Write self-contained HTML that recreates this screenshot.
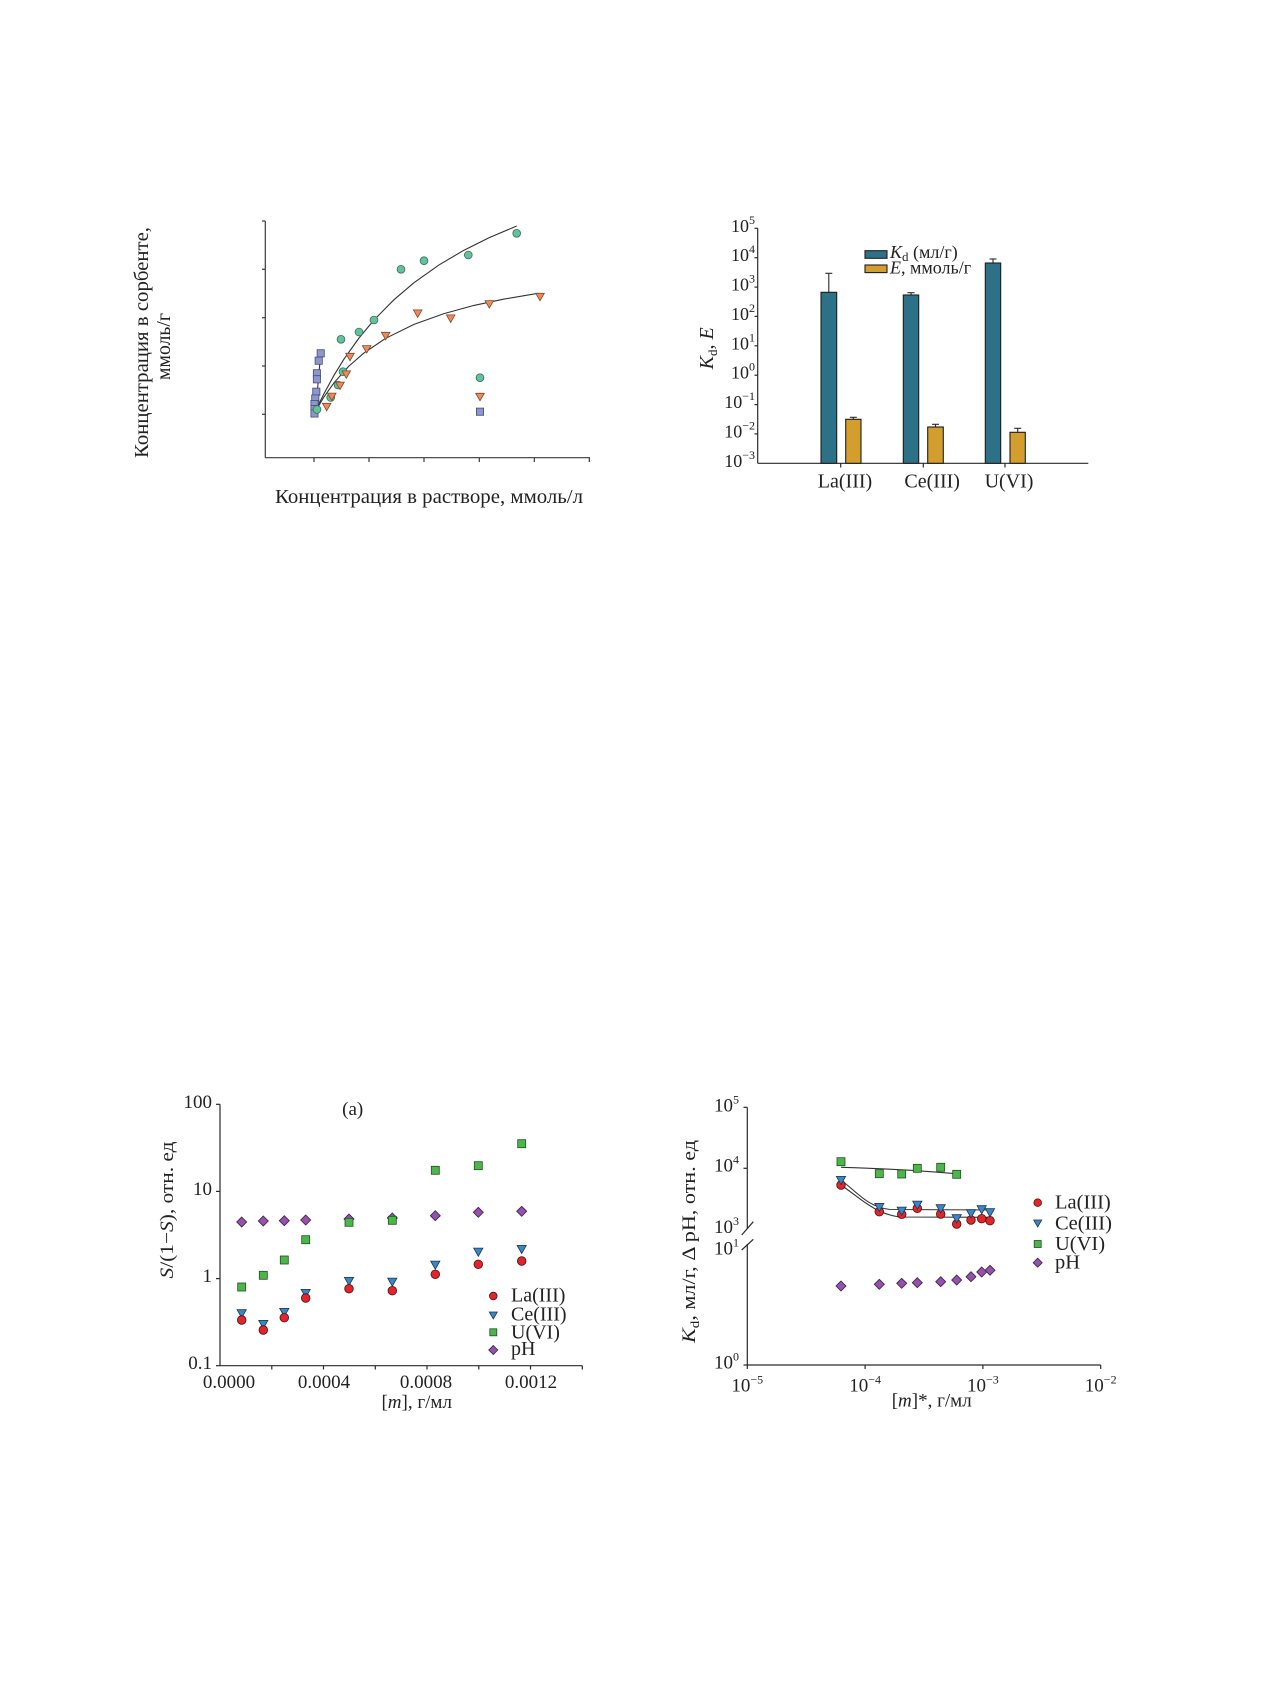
<!DOCTYPE html>
<html><head><meta charset="utf-8">
<style>
html,body{margin:0;padding:0;background:#fff;}
svg{display:block;}
text{font-family:"Liberation Serif","Noto Serif CJK SC",serif;fill:#222;}
</style></head>
<body>
<svg width="1270" height="1683" viewBox="0 0 1270 1683" xmlns="http://www.w3.org/2000/svg">
<defs>
  <circle id="p1c" r="3.9" fill="#5fc49c" stroke="#3d6b58" stroke-width="0.8"/>
  <polygon id="p1t" points="-4.3,-3.4 4.3,-3.4 0,4.1" fill="#f08858" stroke="#7a4a30" stroke-width="0.8"/>
  <rect id="p1s" x="-3.6" y="-3.6" width="7.2" height="7.2" fill="#8c98cc" stroke="#444a78" stroke-width="0.8"/>
  <circle id="mr" r="4.3" fill="#e3242b" stroke="#4a1010" stroke-width="0.8"/>
  <polygon id="mb" points="-4.6,-3.6 4.6,-3.6 0,4.6" fill="#3a86c6" stroke="#1c3550" stroke-width="0.8"/>
  <rect id="mg" x="-4" y="-4" width="8" height="8" fill="#4db64b" stroke="#1f4f1f" stroke-width="0.8"/>
  <polygon id="md" points="0,-5 5,0 0,5 -5,0" fill="#9452ad" stroke="#3c1c48" stroke-width="0.8"/>
</defs>
<rect width="1270" height="1683" fill="#fff"/>

<!-- ============ PANEL 1 ============ -->
<g stroke="#3a3a3a" stroke-width="1.2" fill="none">
  <line x1="265.3" y1="221" x2="265.3" y2="457.7"/>
  <line x1="265.3" y1="457.7" x2="590" y2="457.7"/>
  <line x1="262" y1="221" x2="265.3" y2="221"/>
  <line x1="262" y1="269.3" x2="265.3" y2="269.3"/>
  <line x1="262" y1="317.7" x2="265.3" y2="317.7"/>
  <line x1="262" y1="366" x2="265.3" y2="366"/>
  <line x1="262" y1="414.3" x2="265.3" y2="414.3"/>
  <line x1="314" y1="457.7" x2="314" y2="462"/>
  <line x1="369" y1="457.7" x2="369" y2="462"/>
  <line x1="424" y1="457.7" x2="424" y2="462"/>
  <line x1="479.3" y1="457.7" x2="479.3" y2="462"/>
  <line x1="534.3" y1="457.7" x2="534.3" y2="462"/>
  <line x1="589.3" y1="457.7" x2="589.3" y2="462"/>
</g>
<!-- fit curves -->
<g stroke="#333" stroke-width="1.1" fill="none">
  <polyline points="317,407.8 324,393.6 334,375.3 344,359.1 359,338 374,320 394,299.7 414,282.7 439,264.9 464,250.2 489,237.7 516.7,226"/>
  <polyline points="316,410.5 324,396.9 334,382.8 349,366 364,352.9 385.7,338.3 414,324.4 444,313.6 474,305.4 504,299.1 538,293.3"/>
  <line x1="315.5" y1="412" x2="321" y2="350"/>
</g>
<!-- squares -->
<use href="#p1s" x="320.7" y="353.3"/>
<use href="#p1s" x="318.7" y="360.7"/>
<use href="#p1s" x="316.9" y="373.3"/>
<use href="#p1s" x="316.9" y="379.3"/>
<use href="#p1s" x="316.3" y="391.7"/>
<use href="#p1s" x="315.3" y="398.5"/>
<use href="#p1s" x="314.5" y="404"/>
<use href="#p1s" x="314.5" y="409"/>
<use href="#p1s" x="314.5" y="413.5"/>
<!-- green circles -->
<use href="#p1c" x="516.7" y="233.3"/>
<use href="#p1c" x="468.3" y="255"/>
<use href="#p1c" x="424" y="260.7"/>
<use href="#p1c" x="401" y="269.3"/>
<use href="#p1c" x="374" y="320"/>
<use href="#p1c" x="359" y="332"/>
<use href="#p1c" x="341" y="339.3"/>
<use href="#p1c" x="343" y="371.7"/>
<use href="#p1c" x="338" y="385"/>
<use href="#p1c" x="330.7" y="397.5"/>
<use href="#p1c" x="317" y="409.5"/>
<!-- orange triangles -->
<use href="#p1t" x="540" y="296.7"/>
<use href="#p1t" x="489.3" y="304"/>
<use href="#p1t" x="450.7" y="318.3"/>
<use href="#p1t" x="417.7" y="313.3"/>
<use href="#p1t" x="385.7" y="335.7"/>
<use href="#p1t" x="366.7" y="349"/>
<use href="#p1t" x="350" y="356.7"/>
<use href="#p1t" x="346.3" y="374.3"/>
<use href="#p1t" x="340" y="385.5"/>
<use href="#p1t" x="331.8" y="396.5"/>
<use href="#p1t" x="326.7" y="406.7"/>
<!-- legend markers -->
<use href="#p1c" x="480" y="377.7"/>
<use href="#p1t" x="480" y="396.7"/>
<use href="#p1s" x="480" y="411.7"/>
<!-- labels -->
<text x="275" y="503" font-size="19.5" textLength="308" lengthAdjust="spacingAndGlyphs">Концентрация в растворе, ммоль/л</text>
<text transform="translate(148,342.5) rotate(-90)" text-anchor="middle" font-size="19.5" textLength="231" lengthAdjust="spacingAndGlyphs">Концентрация в сорбенте,</text>
<text transform="translate(170,346.5) rotate(-90)" text-anchor="middle" font-size="19.5" textLength="67" lengthAdjust="spacingAndGlyphs">ммоль/г</text>

<!-- ============ PANEL 2 ============ -->
<g stroke="#2a2a2a" stroke-width="1.2" fill="none">
  <line x1="757.7" y1="228.3" x2="757.7" y2="463.3"/>
  <line x1="757.7" y1="463.3" x2="1088.3" y2="463.3"/>
  <line x1="754.5" y1="228.3" x2="757.7" y2="228.3"/>
  <line x1="754.5" y1="257.7" x2="757.7" y2="257.7"/>
  <line x1="754.5" y1="287.1" x2="757.7" y2="287.1"/>
  <line x1="754.5" y1="316.4" x2="757.7" y2="316.4"/>
  <line x1="754.5" y1="345.8" x2="757.7" y2="345.8"/>
  <line x1="754.5" y1="375.2" x2="757.7" y2="375.2"/>
  <line x1="754.5" y1="404.6" x2="757.7" y2="404.6"/>
  <line x1="754.5" y1="433.9" x2="757.7" y2="433.9"/>
  <line x1="840.7" y1="463.3" x2="840.7" y2="467.5"/>
  <line x1="923.3" y1="463.3" x2="923.3" y2="467.5"/>
  <line x1="1005" y1="463.3" x2="1005" y2="467.5"/>
</g>
<g font-size="18">
  <text x="755" y="231.8" text-anchor="end">10<tspan dy="-8" font-size="12">5</tspan></text>
  <text x="755" y="261.2" text-anchor="end">10<tspan dy="-8" font-size="12">4</tspan></text>
  <text x="755" y="290.6" text-anchor="end">10<tspan dy="-8" font-size="12">3</tspan></text>
  <text x="755" y="319.9" text-anchor="end">10<tspan dy="-8" font-size="12">2</tspan></text>
  <text x="755" y="349.3" text-anchor="end">10<tspan dy="-8" font-size="12">1</tspan></text>
  <text x="755" y="378.7" text-anchor="end">10<tspan dy="-8" font-size="12">0</tspan></text>
  <text x="755" y="408.1" text-anchor="end">10<tspan dy="-8" font-size="12">−1</tspan></text>
  <text x="755" y="437.4" text-anchor="end">10<tspan dy="-8" font-size="12">−2</tspan></text>
  <text x="755" y="466.8" text-anchor="end">10<tspan dy="-8" font-size="12">−3</tspan></text>
</g>
<!-- error bars -->
<g stroke="#2a2a2a" stroke-width="1.1">
  <line x1="828.8" y1="292.3" x2="828.8" y2="273.3"/><line x1="825.3" y1="273.3" x2="832.3" y2="273.3"/>
  <line x1="853.3" y1="419.3" x2="853.3" y2="417.3"/><line x1="849.8" y1="417.3" x2="856.8" y2="417.3"/>
  <line x1="911" y1="295" x2="911" y2="292.7"/><line x1="907.5" y1="292.7" x2="914.5" y2="292.7"/>
  <line x1="935.5" y1="427" x2="935.5" y2="424.3"/><line x1="932" y1="424.3" x2="939" y2="424.3"/>
  <line x1="993" y1="263" x2="993" y2="259"/><line x1="989.5" y1="259" x2="996.5" y2="259"/>
  <line x1="1017.7" y1="432.3" x2="1017.7" y2="428.3"/><line x1="1014.2" y1="428.3" x2="1021.2" y2="428.3"/>
</g>
<g stroke="#1e1e1e" stroke-width="1.1">
  <rect x="821" y="292.3" width="15.7" height="171" fill="#2d7187"/>
  <rect x="845.7" y="419.3" width="15.3" height="44" fill="#d49e2f"/>
  <rect x="903.3" y="295" width="15.4" height="168.3" fill="#2d7187"/>
  <rect x="927.7" y="427" width="15.6" height="36.3" fill="#d49e2f"/>
  <rect x="985.3" y="263" width="15.4" height="200.3" fill="#2d7187"/>
  <rect x="1010" y="432.3" width="15.3" height="31" fill="#d49e2f"/>
  <rect x="865" y="250.7" width="22" height="7.6" fill="#2d7187"/>
  <rect x="865" y="265" width="22" height="7.6" fill="#d49e2f"/>
</g>
<text x="890" y="258" font-size="18"><tspan font-style="italic">K</tspan><tspan font-size="13" dy="3">d</tspan><tspan dy="-3"> (мл/г)</tspan></text>
<text x="890" y="273.5" font-size="18"><tspan font-style="italic">E</tspan>, ммоль/г</text>
<g font-size="20" text-anchor="middle">
  <text x="845" y="487.3">La(III)</text>
  <text x="932.2" y="487.3">Ce(III)</text>
  <text x="1009" y="487.3">U(VI)</text>
</g>
<text transform="translate(713,348.3) rotate(-90)" text-anchor="middle" font-size="20"><tspan font-style="italic">K</tspan><tspan font-size="13" dy="4">d</tspan><tspan dy="-4">, </tspan><tspan font-style="italic">E</tspan></text>

<!-- ============ PANEL 3 ============ -->
<g stroke="#2a2a2a" stroke-width="1.2" fill="none">
  <line x1="220" y1="1104.3" x2="220" y2="1365.7"/>
  <line x1="220" y1="1365.7" x2="582.3" y2="1365.7"/>
  <line x1="216" y1="1104.3" x2="220" y2="1104.3"/>
  <line x1="216" y1="1191.4" x2="220" y2="1191.4"/>
  <line x1="216" y1="1278.6" x2="220" y2="1278.6"/>
  <line x1="216" y1="1365.7" x2="220" y2="1365.7"/>
  <line x1="271.8" y1="1365.7" x2="271.8" y2="1369.5"/>
  <line x1="323.5" y1="1365.7" x2="323.5" y2="1369.5"/>
  <line x1="375.3" y1="1365.7" x2="375.3" y2="1369.5"/>
  <line x1="427" y1="1365.7" x2="427" y2="1369.5"/>
  <line x1="478.8" y1="1365.7" x2="478.8" y2="1369.5"/>
  <line x1="530.5" y1="1365.7" x2="530.5" y2="1369.5"/>
  <line x1="582.3" y1="1365.7" x2="582.3" y2="1369.5"/>
</g>
<g font-size="19" text-anchor="end">
  <text x="212" y="1107.8">100</text>
  <text x="212" y="1194.9">10</text>
  <text x="212" y="1282.1">1</text>
  <text x="212" y="1369.2">0.1</text>
</g>
<g font-size="19" text-anchor="middle">
  <text x="229" y="1388">0.0000</text>
  <text x="324" y="1388">0.0004</text>
  <text x="426" y="1388">0.0008</text>
  <text x="531" y="1388">0.0012</text>
</g>
<text x="416.7" y="1408" font-size="19" text-anchor="middle">[<tspan font-style="italic">m</tspan>], г/мл</text>
<text x="352.7" y="1115" font-size="19" text-anchor="middle">(a)</text>
<text transform="translate(173,1210) rotate(-90)" text-anchor="middle" font-size="19" textLength="137" lengthAdjust="spacingAndGlyphs"><tspan font-style="italic">S</tspan>/(1−<tspan font-style="italic">S</tspan>), отн. ед</text>
<!-- pH -->
<use href="#md" x="241.7" y="1222"/>
<use href="#md" x="263.3" y="1221"/>
<use href="#md" x="284.3" y="1220.7"/>
<use href="#md" x="305.7" y="1220"/>
<use href="#md" x="349" y="1219"/>
<use href="#md" x="392.3" y="1218"/>
<use href="#md" x="435.3" y="1215.7"/>
<use href="#md" x="478.3" y="1212.3"/>
<use href="#md" x="521.7" y="1211.3"/>
<!-- U -->
<use href="#mg" x="241.7" y="1287"/>
<use href="#mg" x="263.3" y="1275.3"/>
<use href="#mg" x="284.3" y="1260"/>
<use href="#mg" x="305.7" y="1239.7"/>
<use href="#mg" x="349" y="1222.3"/>
<use href="#mg" x="392.3" y="1220.3"/>
<use href="#mg" x="435.3" y="1170.3"/>
<use href="#mg" x="478.3" y="1165.7"/>
<use href="#mg" x="521.7" y="1143.7"/>
<!-- Ce -->
<use href="#mb" x="241.7" y="1313.3"/>
<use href="#mb" x="263.3" y="1324"/>
<use href="#mb" x="284.3" y="1312"/>
<use href="#mb" x="305.7" y="1293"/>
<use href="#mb" x="349" y="1281"/>
<use href="#mb" x="392.3" y="1281.7"/>
<use href="#mb" x="435.3" y="1264.7"/>
<use href="#mb" x="478.3" y="1251.7"/>
<use href="#mb" x="521.7" y="1249"/>
<!-- La -->
<use href="#mr" x="241.7" y="1320"/>
<use href="#mr" x="263.3" y="1330"/>
<use href="#mr" x="284.3" y="1317.7"/>
<use href="#mr" x="305.7" y="1298"/>
<use href="#mr" x="349" y="1288.7"/>
<use href="#mr" x="392.3" y="1290.7"/>
<use href="#mr" x="435.3" y="1274.3"/>
<use href="#mr" x="478.3" y="1264.3"/>
<use href="#mr" x="521.7" y="1261"/>
<!-- legend -->
<circle cx="493.3" cy="1296" r="3.8" fill="#e3242b" stroke="#4a1010" stroke-width="0.8"/>
<polygon points="489.3,1312 497.3,1312 493.3,1319" fill="#3a86c6" stroke="#1c3550" stroke-width="0.8"/>
<rect x="489.8" y="1328.8" width="7" height="7" fill="#4db64b" stroke="#1f4f1f" stroke-width="0.8"/>
<polygon points="493.3,1345.5 497.8,1350 493.3,1354.5 488.8,1350" fill="#9452ad" stroke="#3c1c48" stroke-width="0.8"/>
<g font-size="20">
  <text x="511" y="1301.7">La(III)</text>
  <text x="511" y="1320.5">Ce(III)</text>
  <text x="511" y="1338.3">U(VI)</text>
  <text x="511" y="1355">pH</text>
</g>

<!-- ============ PANEL 4 ============ -->
<g stroke="#2a2a2a" stroke-width="1.2" fill="none">
  <line x1="747.3" y1="1107.3" x2="747.3" y2="1229"/>
  <line x1="747.3" y1="1244" x2="747.3" y2="1365"/>
  <line x1="747.3" y1="1365" x2="1100.7" y2="1365"/>
  <line x1="743.5" y1="1107.3" x2="747.3" y2="1107.3"/>
  <line x1="743.5" y1="1168.3" x2="747.3" y2="1168.3"/>
  <line x1="743.5" y1="1365" x2="747.3" y2="1365"/>
  <line x1="741.7" y1="1235" x2="753.3" y2="1221.7"/>
  <line x1="741.7" y1="1250" x2="753.3" y2="1239.3"/>
  <line x1="747.3" y1="1365" x2="747.3" y2="1369"/>
  <line x1="865.1" y1="1365" x2="865.1" y2="1369"/>
  <line x1="982.9" y1="1365" x2="982.9" y2="1369"/>
  <line x1="1100.7" y1="1365" x2="1100.7" y2="1369"/>
</g>
<g font-size="19" text-anchor="end">
  <text x="739" y="1111.7">10<tspan dy="-8" font-size="12">5</tspan></text>
  <text x="739" y="1171.7">10<tspan dy="-8" font-size="12">4</tspan></text>
  <text x="739" y="1233">10<tspan dy="-8" font-size="12">3</tspan></text>
  <text x="739" y="1254.5">10<tspan dy="-8" font-size="12">1</tspan></text>
  <text x="739" y="1368.3">10<tspan dy="-8" font-size="12">0</tspan></text>
</g>
<g font-size="19" text-anchor="middle">
  <text x="747.3" y="1391.7">10<tspan dy="-8" font-size="12">−5</tspan></text>
  <text x="865.1" y="1391.7">10<tspan dy="-8" font-size="12">−4</tspan></text>
  <text x="982.9" y="1391.7">10<tspan dy="-8" font-size="12">−3</tspan></text>
  <text x="1100.7" y="1391.7">10<tspan dy="-8" font-size="12">−2</tspan></text>
</g>
<text x="931.7" y="1406.7" font-size="19" text-anchor="middle">[<tspan font-style="italic">m</tspan>]*, г/мл</text>
<text transform="translate(695,1241.5) rotate(-90)" text-anchor="middle" font-size="19" textLength="203" lengthAdjust="spacingAndGlyphs"><tspan font-style="italic">K</tspan><tspan font-size="13" dy="4">d</tspan><tspan dy="-4">, мл/г,  Δ pH, отн. ед</tspan></text>
<!-- fit lines -->
<g stroke="#333" stroke-width="1.1" fill="none">
  <path d="M841,1167.3 C880,1168.5 920,1170 958.3,1174"/>
  <path d="M841,1180 C858,1193 868,1207 890,1209.5 L993,1210"/>
  <path d="M841,1185 C860,1198 875,1214 900,1217 L993,1217.3"/>
</g>
<!-- U -->
<use href="#mg" x="841" y="1161.7"/>
<use href="#mg" x="879.3" y="1173.7"/>
<use href="#mg" x="901.7" y="1174"/>
<use href="#mg" x="917.3" y="1168.3"/>
<use href="#mg" x="940.7" y="1167.3"/>
<use href="#mg" x="956.7" y="1174.3"/>
<!-- La -->
<use href="#mr" x="841" y="1185"/>
<use href="#mr" x="879.3" y="1211.7"/>
<use href="#mr" x="901.7" y="1214.3"/>
<use href="#mr" x="917.3" y="1208.3"/>
<use href="#mr" x="940.7" y="1214"/>
<use href="#mr" x="956.7" y="1224"/>
<use href="#mr" x="971" y="1220"/>
<use href="#mr" x="981.7" y="1218.7"/>
<use href="#mr" x="990" y="1220.7"/>
<!-- Ce -->
<use href="#mb" x="841" y="1180"/>
<use href="#mb" x="879.3" y="1207"/>
<use href="#mb" x="901.7" y="1210.7"/>
<use href="#mb" x="917.3" y="1204.7"/>
<use href="#mb" x="940.7" y="1208.3"/>
<use href="#mb" x="956.7" y="1218.3"/>
<use href="#mb" x="971" y="1213.3"/>
<use href="#mb" x="981.7" y="1209.3"/>
<use href="#mb" x="990" y="1212.3"/>
<!-- pH -->
<use href="#md" x="841" y="1286"/>
<use href="#md" x="879.3" y="1284.3"/>
<use href="#md" x="901.7" y="1283.3"/>
<use href="#md" x="917.3" y="1282.7"/>
<use href="#md" x="940.7" y="1281.7"/>
<use href="#md" x="956.7" y="1280"/>
<use href="#md" x="971" y="1276.7"/>
<use href="#md" x="981.7" y="1272"/>
<use href="#md" x="990" y="1270.3"/>
<!-- legend -->
<circle cx="1037.7" cy="1202.7" r="3.8" fill="#e3242b" stroke="#4a1010" stroke-width="0.8"/>
<polygon points="1033.7,1220 1041.7,1220 1037.7,1227" fill="#3a86c6" stroke="#1c3550" stroke-width="0.8"/>
<rect x="1034.2" y="1240.5" width="7" height="7" fill="#4db64b" stroke="#1f4f1f" stroke-width="0.8"/>
<polygon points="1037.7,1258.2 1042.2,1262.7 1037.7,1267.2 1033.2,1262.7" fill="#9452ad" stroke="#3c1c48" stroke-width="0.8"/>
<g font-size="20.5">
  <text x="1055" y="1208.3">La(III)</text>
  <text x="1055" y="1229.5">Ce(III)</text>
  <text x="1055" y="1250">U(VI)</text>
  <text x="1055" y="1268.3">pH</text>
</g>
</svg>
</body></html>
